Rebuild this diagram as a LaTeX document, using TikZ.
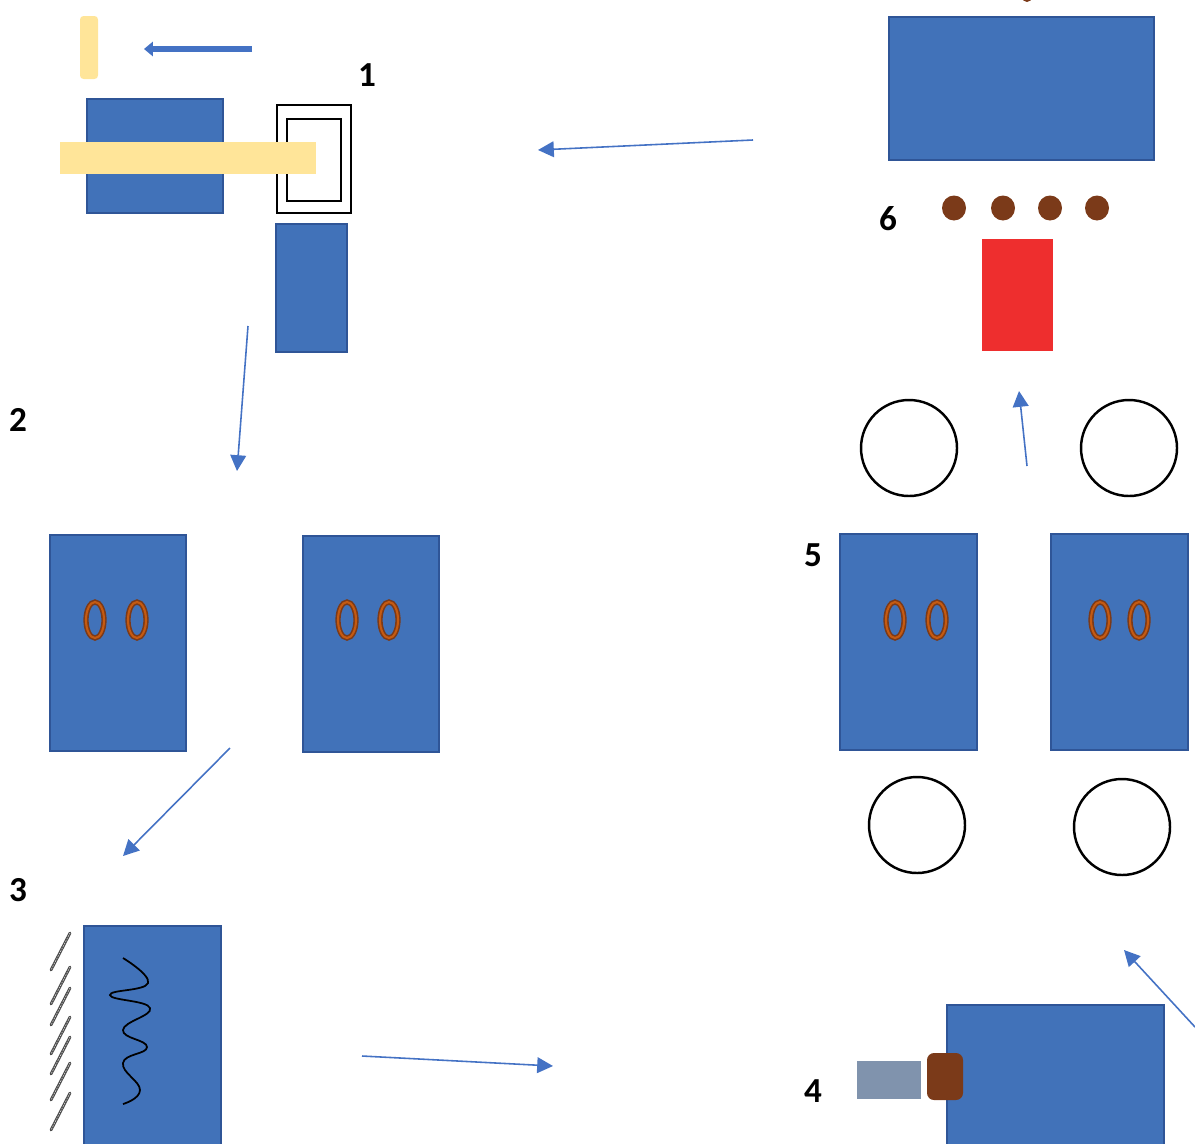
\documentclass[tikz,border=0pt]{standalone}
\usepackage{fontspec}
\setmainfont{Carlito}
\usetikzlibrary{arrows.meta,calc,positioning}
\definecolor{OfficeBlue}{RGB}{65,114,185}
\definecolor{EdgeBlue}{RGB}{47,85,151}
\definecolor{ArrowBlue}{RGB}{68,114,196}
\definecolor{PaleYellow}{RGB}{255,229,153}
\definecolor{Rust}{RGB}{123,58,25}
\definecolor{Copper}{RGB}{197,90,17}
\definecolor{Brick}{RGB}{238,46,46}
\definecolor{Slate}{RGB}{128,147,173}
\tikzset{
  bluebox/.style={fill=OfficeBlue,draw=EdgeBlue,line width=1.1pt},
  flow/.style={draw=ArrowBlue,line width=.9pt,-{Triangle[length=9pt,width=9pt]}},
  stagenum/.style={font=\fontsize{20}{24}\selectfont\bfseries,inner sep=0pt},
  roller/.style={draw=black,line width=1.4pt},
  coil/.style={draw=Rust,line width=3pt,postaction={draw=Copper,line width=1.2pt}},
  hatch/.style={draw=black!70,line width=1.6pt,line cap=round,
    postaction={draw=white!80!black,line width=.4pt,dash pattern=on .7pt off .9pt}},
}

\begin{document}
\begin{tikzpicture}[x=.02cm,y=-.02cm]
  \useasboundingbox (0,0) rectangle (1195,1143);
  \clip (0,0) rectangle (1195,1143);
  % 1
  \fill[PaleYellow,rounded corners=2pt] (80,16) rectangle (98,79);
  \coordinate (push0) at (252,49);
  \coordinate (push1) at (144,49);
  \draw[ArrowBlue,line width=3.2pt,-{Triangle[length=5pt,width=8pt]}] (push0) -- (push1);
  \node[stagenum] (n1) at (367,75) {1};
  \filldraw[bluebox] (87,99) rectangle (223,213);
  \draw[line width=1pt] (277,105) rectangle (351,213);
  \draw[line width=1pt] (287,119) rectangle (341,201);
  \fill[PaleYellow] (60,142) rectangle (316,174);
  \filldraw[bluebox] (276,224) rectangle (347,352);
  % 2
  \node[stagenum] (n2) at (18,420) {2};
  \filldraw[bluebox] (50,535) rectangle (186,751);
  \filldraw[bluebox] (303,536) rectangle (439,752);
  \foreach \x in {95,137,347,389}
    \draw[coil] (\x,620) ellipse (9 and 18);
  % 3
  \node[stagenum] (n3) at (18,890) {3};
  \filldraw[bluebox] (84,926) rectangle (221,1150);
  \foreach \y in {933,967,988,1017,1037,1063,1093}
    \draw[hatch] (70,\y) -- ++(-19,37);
  \draw[line width=1pt] plot[smooth,tension=.8] coordinates {(123,958) (148,983) (110,995) (150,1008) (123,1030) (147,1047) (123,1063) (140,1090) (123,1104)};
  % 4
  \node[stagenum] (n4) at (813,1091) {4};
  \filldraw[bluebox] (947,1005) rectangle (1164,1150);
  \fill[Slate] (857,1061) rectangle (921,1099);
  \fill[Rust,rounded corners=4pt] (927,1053) rectangle (963,1100);
  % 5
  \node[stagenum] (n5) at (813,555) {5};
  \filldraw[bluebox] (840,534) rectangle (977,750);
  \filldraw[bluebox] (1051,534) rectangle (1188,750);
  \foreach \x in {895,937,1100,1139}
    \draw[coil] (\x,620) ellipse (9 and 18);
  \draw[roller] (909,448) circle (48);
  \draw[roller] (1129,448) circle (48);
  \draw[roller] (917,825) circle (48);
  \draw[roller] (1122,827) circle (48);
  % 6
  \node[stagenum] (n6) at (888,219) {6};
  \fill[Rust] (1027,-3) circle (5);
  \filldraw[bluebox] (889,17) rectangle (1154,160);
  \foreach \x in {954,1003,1050,1097}
    \fill[Rust] (\x,208) ellipse (12 and 12.5);
  \fill[Brick] (982,239) rectangle (1053,351);
  % flow between stages
  \coordinate (a6) at (753,140);  \coordinate (b1) at (538,150);
  \coordinate (a1) at (248,326);  \coordinate (b2) at (237,471);
  \coordinate (a2) at (230,748);  \coordinate (b3) at (123,856);
  \coordinate (a3) at (362,1056); \coordinate (b4) at (553,1066);
  \coordinate (a4) at (1195,1027); \coordinate (b5) at (1124,950);
  \coordinate (a5) at (1027,466); \coordinate (b6) at (1019,391);
  \draw[flow] (a6) -- (b1);
  \draw[flow] (a1) -- (b2);
  \draw[flow] (a2) -- (b3);
  \draw[flow] (a3) -- (b4);
  \draw[flow] (a4) -- (b5);
  \draw[flow] (a5) -- (b6);
\end{tikzpicture}
\end{document}
